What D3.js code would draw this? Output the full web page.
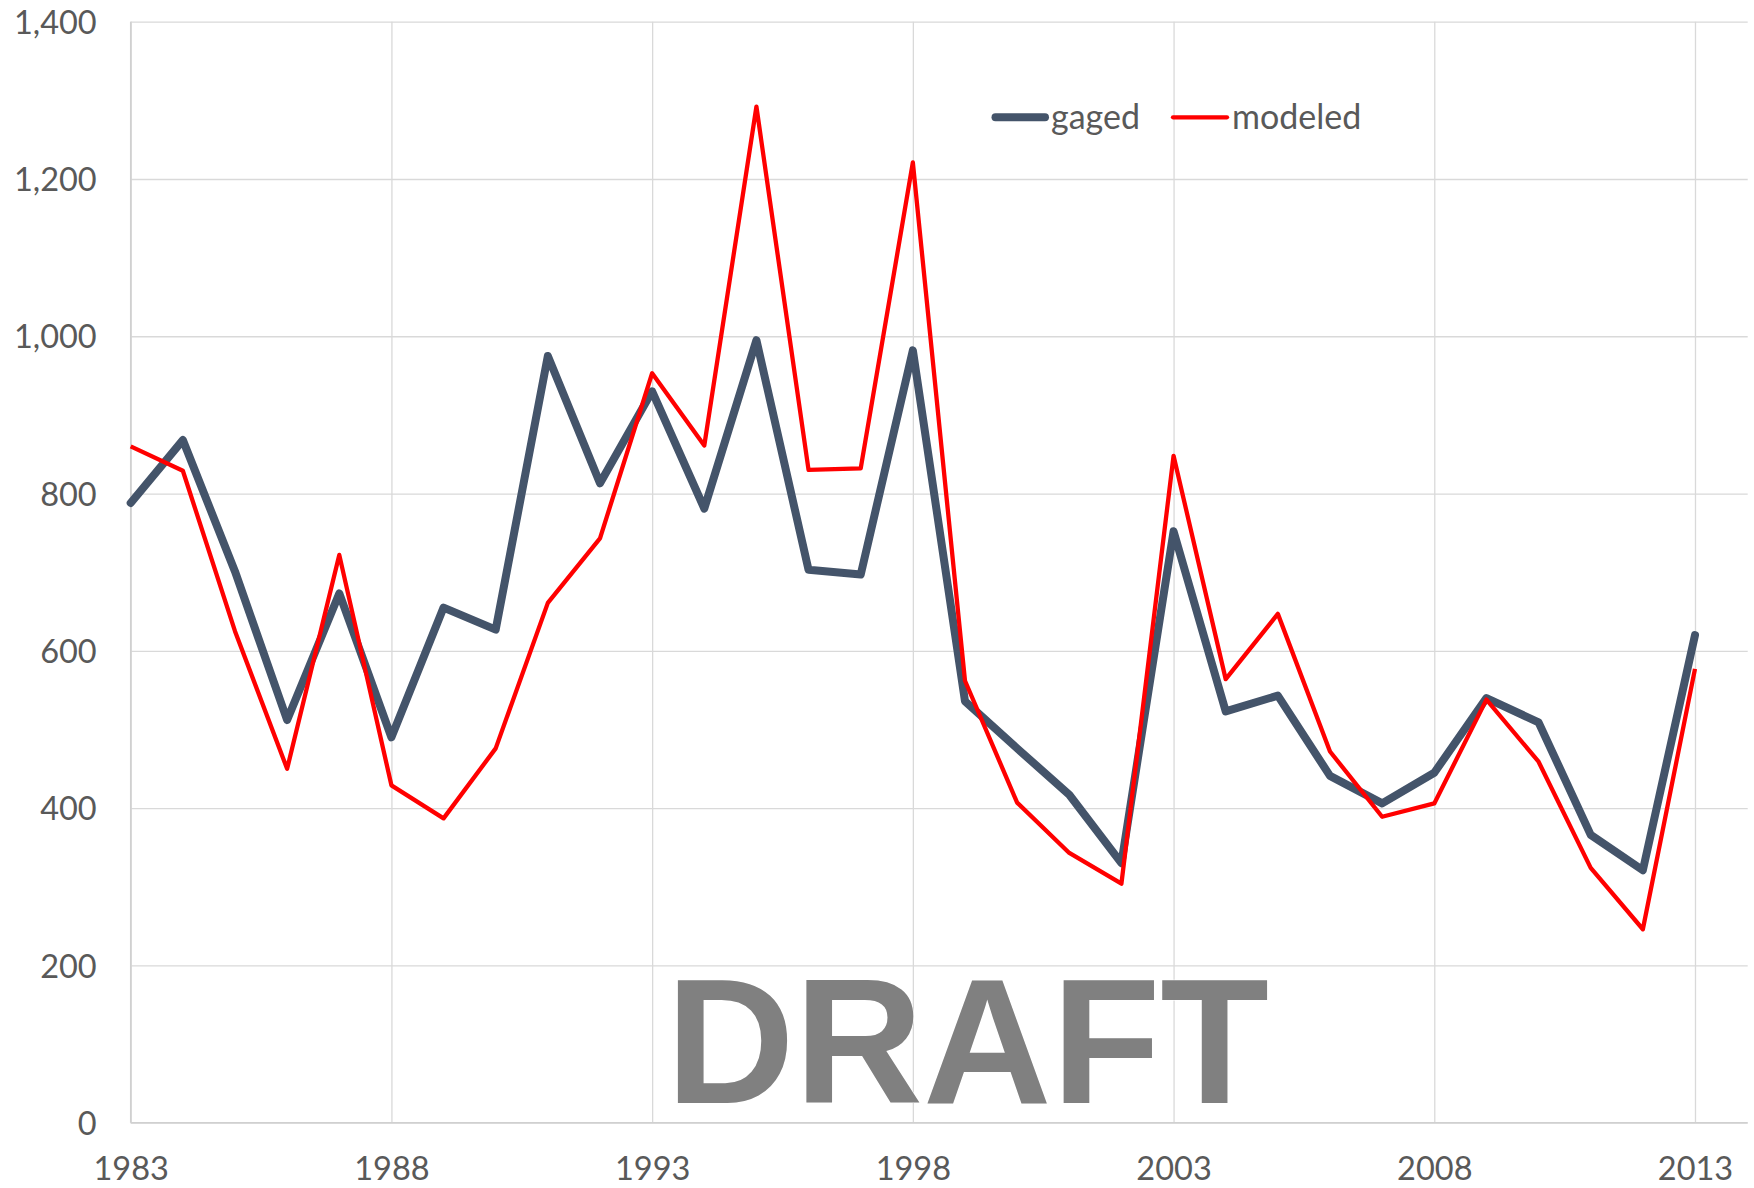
<!DOCTYPE html>
<html>
<head>
    <title>Gaged vs modeled</title>
    <script src="https://d3js.org/d3.v7.min.js"></script>
    <style>
        body {
            margin: 0;
            background: #fff;
        }
        .grid line {
            stroke: #d9d9d9;
            stroke-width: 1.3;
        }
        .grid path {
            display: none;
        }
        .tick text {
            font-family: Lato, "Open Sans", sans-serif;
            font-size: 32.5px;
            fill: #595959;
        }
        .legend text {
            font-family: Lato, "Open Sans", sans-serif;
            font-size: 34px;
            fill: #595959;
        }
    </style>
</head>
<body>
    <svg id="chart" width="1754" height="1188"></svg>

    <script>
        // Data
        const years = d3.range(1983, 2014);
        const gaged = [788, 868, 701, 512, 673, 490, 655, 627, 975, 813,
                       930, 781, 995, 703, 697, 982, 536, 476, 417, 330,
                       752, 523, 543, 441, 406, 445, 540, 509, 366, 321, 620];
        const modeled = [860, 829, 625, 450, 722, 429, 387, 476, 661, 743,
                         953, 861, 1292, 830, 832, 1221, 562, 407, 343, 304,
                         848, 564, 647, 472, 389, 406, 538, 459, 324, 246, 577];
        const yTicks = [0, 200, 400, 600, 800, 1000, 1200, 1400];
        const xTicks = [1983, 1988, 1993, 1998, 2003, 2008, 2013];
        const seriesNames = ["gaged", "modeled"];
        const watermark = "DRAFT";

        const plotLeft = 130.7, plotRight = 1747.7, plotTop = 21.7, plotBottom = 1122.7;

        const svg = d3.select("#chart");

        const x = d3.scaleLinear()
            .domain([1983, 2013])
            .range([plotLeft, 1695]);

        const y = d3.scaleLinear()
            .domain([0, 1400])
            .range([plotBottom, plotTop]);

        // Horizontal gridlines + y labels
        const yAxis = svg.append("g")
            .attr("class", "grid")
            .attr("transform", `translate(${plotLeft},0)`)
            .call(d3.axisLeft(y)
                .tickValues(yTicks)
                .tickFormat(d3.format(","))
                .tickSize(-(plotRight - plotLeft))
                .tickPadding(34));
        yAxis.selectAll(".tick text").attr("dy", "0.36em");

        // Vertical gridlines + x labels
        const xAxis = svg.append("g")
            .attr("class", "grid")
            .attr("transform", `translate(0,${plotBottom})`)
            .call(d3.axisBottom(x)
                .tickValues(xTicks)
                .tickFormat(d3.format("d"))
                .tickSize(-(plotBottom - plotTop)));
        xAxis.selectAll(".tick text").attr("dy", "0.71em").attr("y", 34);

        // Left and bottom axis lines
        svg.append("line")
            .attr("x1", plotLeft).attr("x2", plotLeft)
            .attr("y1", plotTop).attr("y2", plotBottom)
            .attr("stroke", "#d0d0d0").attr("stroke-width", 1.5);
        svg.append("line")
            .attr("x1", plotLeft).attr("x2", plotRight)
            .attr("y1", plotBottom).attr("y2", plotBottom)
            .attr("stroke", "#d0d0d0").attr("stroke-width", 1.5);

        const line = d3.line()
            .x((d, i) => x(years[i]))
            .y(d => y(d));

        svg.append("path")
            .datum(gaged)
            .attr("fill", "none")
            .attr("stroke", "#44546a")
            .attr("stroke-width", 8)
            .attr("stroke-linejoin", "round")
            .attr("stroke-linecap", "round")
            .attr("d", line);

        svg.append("path")
            .datum(modeled)
            .attr("fill", "none")
            .attr("stroke", "#ff0000")
            .attr("stroke-width", 4.3)
            .attr("stroke-linejoin", "round")
            .attr("d", line);

        // Legend
        const legendItems = [
            {name: seriesNames[0], color: "#44546a", width: 8, x1: 995.5, x2: 1045, tx: 1051},
            {name: seriesNames[1], color: "#ff0000", width: 4.3, x1: 1173, x2: 1227, tx: 1232}
        ];
        const legend = svg.append("g").attr("class", "legend");
        legendItems.forEach(item => {
            legend.append("line")
                .attr("x1", item.x1).attr("x2", item.x2)
                .attr("y1", 117.3).attr("y2", 117.3)
                .attr("stroke", item.color)
                .attr("stroke-width", item.width)
                .attr("stroke-linecap", "round");
            legend.append("text")
                .attr("x", item.tx)
                .attr("y", 128.5)
                .text(item.name);
        });

        // Watermark
        svg.append("text")
            .attr("x", 666)
            .attr("y", 1102.7)
            .attr("font-family", "'Liberation Sans', Arial, sans-serif")
            .attr("font-weight", "bold")
            .attr("font-size", 178)
            .attr("fill", "#808080")
            .attr("stroke", "#ffffff")
            .attr("stroke-width", 1)
            .attr("paint-order", "stroke")
            .text(watermark);
    </script>
</body>
</html>
